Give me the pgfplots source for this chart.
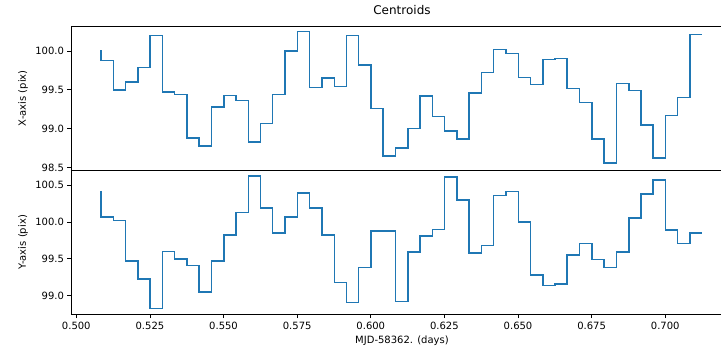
\documentclass[border=0pt]{standalone}
\usepackage{fontspec}
\setmainfont{DejaVu Sans}
\usepackage{pgfplots}
\pgfplotsset{compat=1.18}
\definecolor{mplblue}{HTML}{1F77B4}
\pgfplotsset{
  mpl/.style={
    scale only axis,
    width=662pt,
    height=144.6pt,
    xmin=0.4982, xmax=0.7230,
    axis line style={line width=0.8pt, black},
    tick style={line width=0.8pt, black},
    major tick length=3.5pt,
    tick align=outside,
    xtick pos=bottom,
    ytick pos=left,
    xtick={0.5,0.525,0.55,0.575,0.6,0.625,0.65,0.675,0.7},
    ytick={98.5,99,99.5,100,100.5},
    tick label style={font=\fontsize{10}{12}\selectfont},
    label style={font=\fontsize{10}{12}\selectfont},
    /pgf/number format/assume math mode=true,
    xticklabel style={/pgf/number format/.cd, fixed, fixed zerofill, precision=3},
    yticklabel style={/pgf/number format/.cd, fixed, fixed zerofill, precision=1},
    scaled x ticks=false, scaled y ticks=false,
    ylabel style={at={(axis description cs:-0.0725,0.5)}, anchor=center, rotate=0},
  },
  stepline/.style={const plot mark right, mplblue, line width=1.5pt, mark=none, line join=miter},
}
\begin{document}
\begin{tikzpicture}
\begin{axis}[mpl, at={(71pt,175.4pt)}, anchor=south west,
  ymin=98.461, ymax=100.321,
  xticklabels={},
  xtick style={draw=none},
  ylabel={X-axis (pix)},
  title={Centroids},
  title style={font=\fontsize{12}{14}\selectfont, yshift=1.5pt},
]
\addplot[stepline] table {
x y
0.5084 100.01
0.5126 99.88
0.5167 99.50
0.5209 99.60
0.5251 99.79
0.5292 100.20
0.5334 99.47
0.5376 99.44
0.5417 98.88
0.5459 98.78
0.5501 99.28
0.5542 99.43
0.5584 99.36
0.5626 98.83
0.5667 99.07
0.5709 99.44
0.5751 100.00
0.5792 100.25
0.5834 99.53
0.5876 99.65
0.5917 99.54
0.5959 100.20
0.6001 99.82
0.6042 99.26
0.6084 98.65
0.6126 98.75
0.6167 99.00
0.6209 99.42
0.6251 99.16
0.6292 98.97
0.6334 98.87
0.6376 99.46
0.6417 99.72
0.6459 100.02
0.6501 99.97
0.6542 99.66
0.6584 99.57
0.6626 99.89
0.6667 99.90
0.6709 99.52
0.6751 99.34
0.6792 98.87
0.6834 98.56
0.6876 99.58
0.6917 99.49
0.6959 99.05
0.7001 98.62
0.7042 99.17
0.7084 99.40
0.7126 100.21
};
\end{axis}
\begin{axis}[mpl, at={(71pt,31.3pt)}, anchor=south west,
  ymin=98.743, ymax=100.702,
  ylabel={Y-axis (pix)},
  xlabel={MJD-58362. (days)},
]
\addplot[stepline] table {
x y
0.5084 100.42
0.5126 100.07
0.5167 100.02
0.5209 99.47
0.5251 99.23
0.5292 98.83
0.5334 99.60
0.5376 99.50
0.5417 99.41
0.5459 99.05
0.5501 99.47
0.5542 99.82
0.5584 100.13
0.5626 100.62
0.5667 100.19
0.5709 99.85
0.5751 100.07
0.5792 100.39
0.5834 100.19
0.5876 99.82
0.5917 99.18
0.5959 98.91
0.6001 99.38
0.6042 99.88
0.6084 99.88
0.6126 98.92
0.6167 99.59
0.6209 99.81
0.6251 99.90
0.6292 100.61
0.6334 100.30
0.6376 99.58
0.6417 99.68
0.6459 100.36
0.6501 100.41
0.6542 100.00
0.6584 99.28
0.6626 99.14
0.6667 99.16
0.6709 99.55
0.6751 99.71
0.6792 99.49
0.6834 99.38
0.6876 99.59
0.6917 100.05
0.6959 100.38
0.7001 100.57
0.7042 99.89
0.7084 99.71
0.7126 99.85
};
\end{axis}
\pgfresetboundingbox
\path[use as bounding box] (0pt,0pt) rectangle (721pt,346pt);
\end{tikzpicture}
\end{document}
